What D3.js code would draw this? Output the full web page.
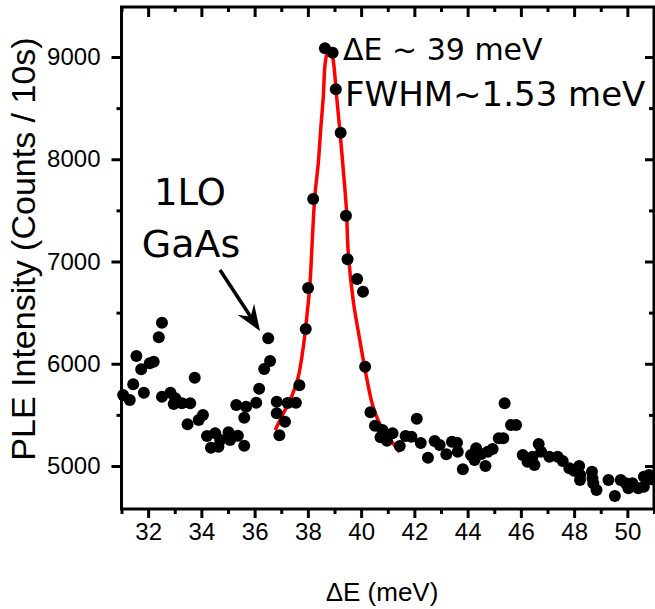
<!DOCTYPE html>
<html><head><meta charset="utf-8">
<script src="https://cdn.jsdelivr.net/npm/d3@7"></script>
<style>body{margin:0;background:#fff}</style>
</head><body><svg id="c" width="655" height="609"></svg>
<script>
// PLE data points (ΔE in meV, counts / 10 s)
const dataX = [31.06,31.31,31.44,31.84,31.56,31.74,32.06,32.21,32.40,32.52,32.52,32.84,33.02,32.96,33.27,33.58,33.75,33.48,33.90,34.06,34.21,34.36,34.52,34.64,34.71,35.02,35.08,35.37,35.61,35.31,35.68,35.61,36.06,36.17,36.36,36.58,36.51,36.83,36.83,36.93,37.14,37.24,37.55,37.68,37.92,38.01,38.20,38.64,38.93,39.05,39.23,39.43,39.49,39.85,40.07,40.15,40.35,40.52,40.80,40.73,40.97,41.18,41.45,41.67,41.89,42.09,42.24,42.51,42.76,42.95,43.20,43.41,43.60,43.63,43.82,44.13,44.32,44.26,44.51,44.67,44.76,44.94,45.17,45.34,45.39,45.63,45.82,46.07,46.25,46.44,46.51,46.67,46.76,47.07,47.38,47.57,47.82,48.00,48.19,48.23,48.22,48.67,48.69,48.72,48.84,49.29,49.53,49.75,49.94,50.04,50.19,50.41,50.62,50.62,50.81,50.91];
const dataY = [5694,5645,5799,5717,6076,5946,6004,6020,6259,6401,5678,5717,5662,5606,5613,5613,5864,5408,5450,5499,5293,5179,5320,5189,5254,5330,5254,5296,5199,5597,5580,5472,5619,5756,5949,6027,6249,5629,5515,5300,5433,5616,5619,5789,6340,6741,7611,9085,9042,8684,8260,7448,7022,6829,6705,5971,5525,5394,5352,5281,5247,5320,5196,5293,5287,5463,5225,5081,5245,5205,5114,5238,5228,5140,4968,5108,5173,5059,5117,5000,5140,5166,5271,5271,5613,5401,5401,5108,5042,5091,5010,5215,5140,5091,5091,5049,4978,4954,5000,4912,4863,4944,4880,4831,4765,4863,4707,4863,4831,4782,4831,4782,4798,4895,4912,4870];
// Lorentzian fit
const fitX = [36.77,37.08,37.39,37.64,37.83,37.96,38.08,38.16,38.26,38.39,38.48,38.58,38.65,38.76,38.84,38.95,39.08,39.20,39.33,39.45,39.51,39.70,39.95,40.20,40.45,40.82,41.20,41.45];
const fitY = [5352,5515,5678,5873,6167,6460,6787,7178,7634,7960,8286,8612,8938,9068,9080,8971,8612,8286,7895,7504,7112,6623,6232,5873,5580,5352,5222,5134];
const xTicks = [32,34,36,38,40,42,44,46,48,50];
const xMinor = [31,33,35,37,39,41,43,45,47,49,51];
const yTicks = [5000,6000,7000,8000,9000];
const yMinor = [5500,6500,7500,8500];
const xTitle = "ΔE (meV)";
const yTitle = "PLE Intensity (Counts / 10s)";
const notes = ["ΔE ~ 39 meV", "FWHM~1.53 meV"];
const peakLabel = ["1LO", "GaAs"];

const svg = d3.select("#c");
svg.append("rect").attr("width",655).attr("height",609).attr("fill","#fff");
const L=121.5, R=654, T=7, B=509;
const x = d3.scaleLinear().domain([31,51]).range([L,R]);
const y = d3.scaleLinear().domain([4579.5,9489]).range([B,T]);
const tickFont = "Liberation Sans, Arial, sans-serif";

function styleAxis(g){
  g.select(".domain").remove();
  g.selectAll("line").attr("stroke","#000").attr("stroke-width",3);
  g.selectAll("text").attr("font-family",tickFont).attr("font-size",24).attr("fill","#000");
}
// bottom
svg.append("g").attr("transform",`translate(0,${B})`).call(d3.axisBottom(x).tickValues(xTicks).tickSize(9).tickPadding(5).tickFormat(d3.format("d"))).call(styleAxis);
svg.append("g").attr("transform",`translate(0,${B})`).call(d3.axisBottom(x).tickValues(xMinor).tickSize(5).tickFormat("")).call(styleAxis);
// top (inward)
svg.append("g").attr("transform",`translate(0,${T})`).call(d3.axisBottom(x).tickValues(xTicks).tickSize(10).tickFormat("")).call(styleAxis);
svg.append("g").attr("transform",`translate(0,${T})`).call(d3.axisBottom(x).tickValues(xMinor).tickSize(5).tickFormat("")).call(styleAxis);
// left
svg.append("g").attr("transform",`translate(${L},0)`).call(d3.axisLeft(y).tickValues(yTicks).tickSize(10).tickPadding(11).tickFormat(d3.format("d"))).call(styleAxis);
svg.append("g").attr("transform",`translate(${L},0)`).call(d3.axisLeft(y).tickValues(yMinor).tickSize(5).tickFormat("")).call(styleAxis);
// right (inward)
svg.append("g").attr("transform",`translate(${R},0)`).call(d3.axisLeft(y).tickValues(yTicks).tickSize(9).tickFormat("")).call(styleAxis);
svg.append("g").attr("transform",`translate(${R},0)`).call(d3.axisLeft(y).tickValues(yMinor).tickSize(5).tickFormat("")).call(styleAxis);
// frame
svg.append("rect").attr("x",L).attr("y",T).attr("width",R-L).attr("height",B-T)
  .attr("fill","none").attr("stroke","#000").attr("stroke-width",3);

// fit line
const line = d3.line().x((d,i)=>x(fitX[i])).y((d,i)=>y(fitY[i])).curve(d3.curveCatmullRom);
svg.append("path").attr("d",line(fitX)).attr("fill","none").attr("stroke","#ff0000").attr("stroke-width",3.5);

// points
svg.append("g").selectAll("circle").data(dataX).join("circle")
  .attr("cx",(d)=>x(d)).attr("cy",(d,i)=>y(dataY[i])).attr("r",6).attr("fill","#000");

// titles
svg.append("text").attr("x",382).attr("y",601).attr("text-anchor","middle")
  .attr("font-family",tickFont).attr("font-size",26).text(xTitle);
svg.append("text").attr("transform","translate(35,249) rotate(-90)").attr("text-anchor","middle")
  .attr("font-family",tickFont).attr("font-size",34).text(yTitle);

// annotations
const annFont = "DejaVu Sans, sans-serif";
svg.append("text").attr("x",343).attr("y",60).attr("font-family",annFont).attr("font-size",30).text(notes[0]);
svg.append("text").attr("x",345).attr("y",106).attr("font-family",annFont).attr("font-size",34).text(notes[1]);
svg.append("text").attr("x",190).attr("y",205).attr("text-anchor","middle").attr("font-family",annFont).attr("font-size",37).text(peakLabel[0]);
svg.append("text").attr("x",191).attr("y",257).attr("text-anchor","middle").attr("font-family",annFont).attr("font-size",38).text(peakLabel[1]);

// arrow
const tip=[260,331], tail=[220,270];
const ang=Math.atan2(tip[1]-tail[1],tip[0]-tail[0]);
const ux=Math.cos(ang), uy=Math.sin(ang), px=-uy, py=ux;
const hl=26, hw=10, notch=17;
svg.append("line").attr("x1",tail[0]).attr("y1",tail[1]).attr("x2",tip[0]-ux*notch).attr("y2",tip[1]-uy*notch)
  .attr("stroke","#000").attr("stroke-width",3.5);
const p1=[tip[0]-ux*hl+px*hw, tip[1]-uy*hl+py*hw];
const p2=[tip[0]-ux*notch, tip[1]-uy*notch];
const p3=[tip[0]-ux*hl-px*hw, tip[1]-uy*hl-py*hw];
svg.append("path").attr("d",`M${tip}L${p1}L${p2}L${p3}Z`).attr("fill","#000");
</script></body></html>
